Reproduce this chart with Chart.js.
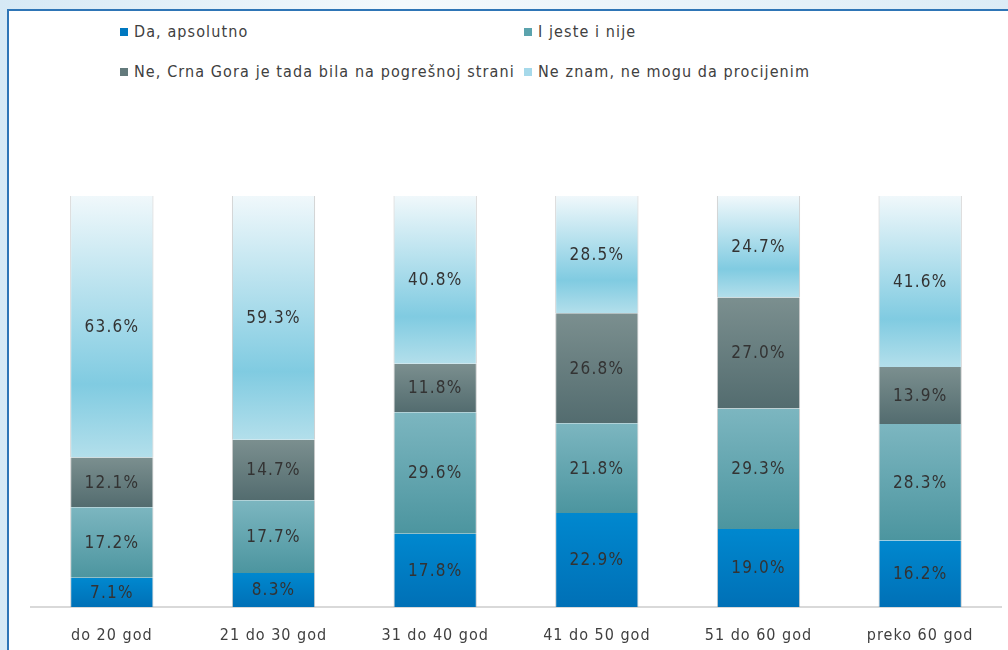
<!DOCTYPE html>
<html>
<head>
<meta charset="utf-8">
<script src="https://cdn.jsdelivr.net/npm/chart.js@4.4.1/dist/chart.umd.min.js"></script>
<style>
  html, body { margin: 0; padding: 0; }
  body {
    width: 1008px; height: 650px; overflow: hidden; position: relative;
    background: linear-gradient(90deg, #d6e9f5 0%, #f4f9fc 40%, #dcecf6 100%);
    font-family: "DejaVu Sans Condensed", "DejaVu Sans", sans-serif;
  }
  #panel {
    position: absolute; left: 7px; top: 9px; right: 0; bottom: 0;
    background: #fff; border-left: 2px solid #2e75b6; border-top: 2px solid #2e75b6;
  }
  #chartBox { position: absolute; left: 0; top: 0; width: 1008px; height: 650px; }
  .leg { position: absolute; font-size: 16px; letter-spacing: 1.1px; color: #404040; white-space: nowrap; }
  .leg i { display: inline-block; width: 8px; height: 8px; margin-right: 6px; vertical-align: 1px; }
</style>
</head>
<body>
<div id="panel"></div>
<div id="legend"></div>
<div id="chartBox"><canvas id="ageChart" width="1008" height="650"></canvas></div>
<script>
var categories = ["do 20 god", "21 do 30 god", "31 do 40 god", "41 do 50 god", "51 do 60 god", "preko 60 god"];

var daApsolutno = [7.1, 8.3, 17.8, 22.9, 19.0, 16.2];
var jesteNije = [17.2, 17.7, 29.6, 21.8, 29.3, 28.3];
var pogresnaStrana = [12.1, 14.7, 11.8, 26.8, 27.0, 13.9];
var neZnam = [63.6, 59.3, 40.8, 28.5, 24.7, 41.6];

var seriesNames = [
    "Da, apsolutno",
    "I jeste i nije",
    "Ne, Crna Gora je tada bila na pogrešnoj strani",
    "Ne znam, ne mogu da procijenim"
];

// gradient stops per series, top to bottom of each segment
var gradients = [
    [[0, "#0088cf"], [1, "#0070b6"]],
    [[0, "#7cb6c0"], [1, "#4c959f"]],
    [[0, "#7b8f8f"], [1, "#536c6f"]],
    [[0, "#f0f8fb"], [0.72, "#80cbe1"], [1, "#b3dfeb"]]
];
var legendColors = ["#0078c0", "#5ba3ad", "#637a7c", "#a6d9ea"];

function segmentFill(seriesIndex) {
    return function (context) {
        var chart = context.chart;
        if (!chart.chartArea || context.type !== "data") return legendColors[seriesIndex];
        var y = chart.scales.y;
        var i = context.dataIndex;
        var base = 0;
        for (var s = 0; s < seriesIndex; s++) base += chart.data.datasets[s].data[i];
        var top = base + chart.data.datasets[seriesIndex].data[i];
        var y0 = y.getPixelForValue(top);
        var y1 = y.getPixelForValue(base);
        if (!isFinite(y0) || !isFinite(y1) || y0 === y1) return legendColors[seriesIndex];
        var g = chart.ctx.createLinearGradient(0, y0, 0, y1);
        gradients[seriesIndex].forEach(function (st) { g.addColorStop(st[0], st[1]); });
        return g;
    };
}

var allSeries = [daApsolutno, jesteNije, pogresnaStrana, neZnam];
var datasets = allSeries.map(function (values, k) {
    return {
        label: seriesNames[k],
        data: values,
        backgroundColor: segmentFill(k),
        borderColor: "rgba(140,140,140,0.45)",
        borderWidth: { left: 1, right: 1, top: 0, bottom: 0 },
        borderSkipped: false,
        barPercentage: 0.515,
        categoryPercentage: 1
    };
});

// legend in two columns like the original
var legendPos = [[120, 22], [524, 22], [120, 62], [524, 62]];
var legendEl = document.getElementById("legend");
seriesNames.forEach(function (name, k) {
    var d = document.createElement("div");
    d.className = "leg";
    d.style.left = legendPos[k][0] + "px";
    d.style.top = legendPos[k][1] + "px";
    d.innerHTML = '<i style="background:' + legendColors[k] + '"></i>';
    d.appendChild(document.createTextNode(name));
    legendEl.appendChild(d);
});

// the original text is wide-set; widen canvas text a little
var spacing = {
    id: "spacing",
    beforeDraw: function (chart) { chart.ctx.letterSpacing = "1px"; },
    afterDraw: function (chart) { chart.ctx.letterSpacing = "0px"; }
};

var valueLabels = {
    id: "valueLabels",
    afterDatasetsDraw: function (chart) {
        var ctx = chart.ctx;
        ctx.save();
        ctx.font = '17px "DejaVu Sans Condensed", "DejaVu Sans", sans-serif';
        ctx.letterSpacing = "1.2px";
        ctx.fillStyle = "#333333";
        ctx.textAlign = "center";
        ctx.textBaseline = "middle";
        chart.data.datasets.forEach(function (ds, k) {
            chart.getDatasetMeta(k).data.forEach(function (bar, i) {
                ctx.fillText(ds.data[i].toFixed(1) + "%", bar.x, (bar.y + bar.base) / 2 + 1);
            });
        });
        ctx.restore();
    }
};

var ctx = document.getElementById("ageChart").getContext("2d");

new Chart(ctx, {
    type: "bar",
    data: {
        labels: categories,
        datasets: datasets
    },
    plugins: [spacing, valueLabels],
    options: {
        responsive: false,
        animation: false,
        maintainAspectRatio: false,
        layout: {
            padding: { top: 196, left: 31, right: 7, bottom: 0 }
        },
        scales: {
            x: {
                stacked: true,
                grid: { display: false },
                border: { display: true, color: "#d9d9d9", width: 2 },
                ticks: {
                    color: "#404040",
                    padding: 11,
                    font: { family: '"DejaVu Sans Condensed", "DejaVu Sans", sans-serif', size: 16 }
                },
                afterFit: function (scale) { scale.height = 43; }
            },
            y: {
                stacked: true,
                display: false,
                min: 0,
                max: 100
            }
        },
        plugins: {
            legend: { display: false },
            tooltip: { enabled: false }
        }
    }
});
</script>
</body>
</html>
